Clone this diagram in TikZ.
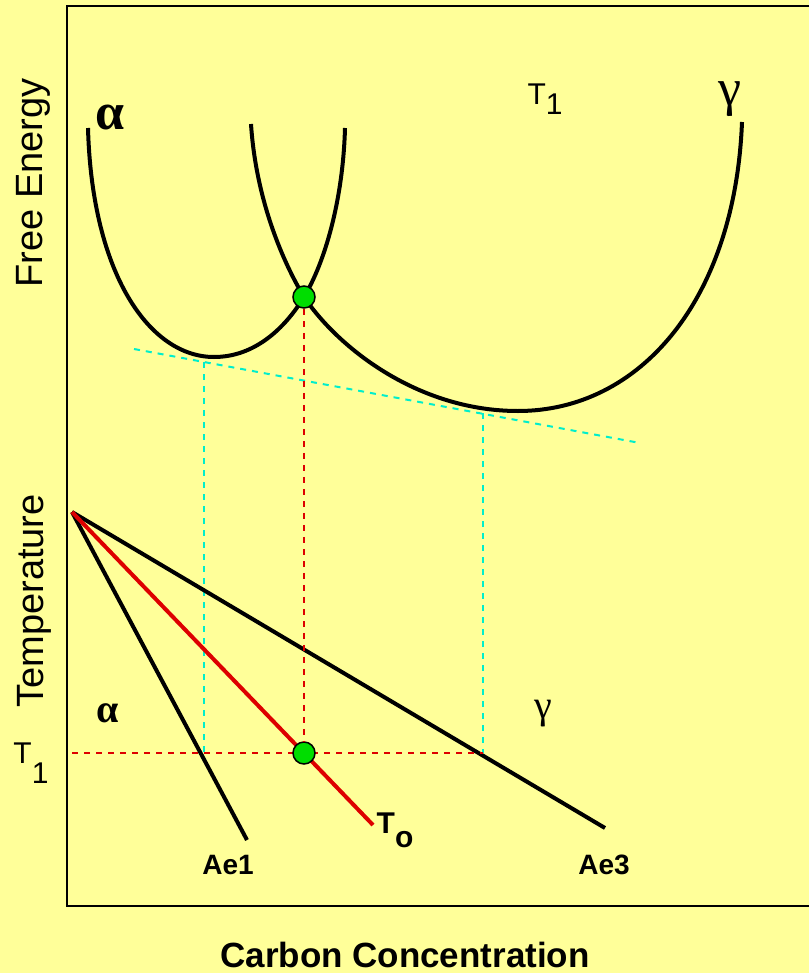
\documentclass[tikz,border=0pt]{standalone}
\usepackage{fontspec}
\setmainfont{Liberation Sans}
\newfontfamily\greekfont{Liberation Serif}
\usetikzlibrary{positioning}
\definecolor{slideYellow}{RGB}{255,255,153}
\definecolor{slideGreen}{RGB}{0,221,0}
\definecolor{slideRed}{RGB}{221,0,0}
\definecolor{slideCyan}{RGB}{0,238,204}

\begin{document}
\begin{tikzpicture}[
  x=0.5pt,y=-0.5pt,
  curve/.style={line width=2pt,line join=round},
  phaseline/.style={line width=2pt},
  tieline/.style={slideCyan,line width=1pt,dash pattern=on 3pt off 3pt},
  guide/.style={slideRed,line width=1pt,dash pattern=on 3pt off 3pt},
  dot/.style={
    circle,
    draw,
    line width=0.75pt,
    fill=slideGreen,
    inner sep=0pt,
    minimum size=11pt
  },
  axis/.style={font=\fontsize{19}{21}\selectfont},
  greek/.style={anchor=base,font=\greekfont\fontsize{26}{28}\selectfont},
  smallgreek/.style={anchor=base,font=\greekfont\fontsize{20}{22}\selectfont},
  linelabel/.style={anchor=base,font=\bfseries\fontsize{14}{16}\selectfont},
  templabel/.style={anchor=base,font=\fontsize{15}{17}\selectfont}
]
  \fill[slideYellow] (0,0) rectangle (809,973);
  \useasboundingbox (0,0) rectangle (809,973);
  \draw[line width=1pt] (809,6) -- (67,6) -- (67,906) -- (809,906);

  \coordinate (tanstart) at (134,349);
  \coordinate (tanend) at (640,443);
  \coordinate (tanalpha) at (204,362);
  \coordinate (tangamma) at (483,413);
  \coordinate (apex) at (72,512);
  \coordinate (ae1end) at (247,840);
  \coordinate (toend) at (373,825);
  \coordinate (ae3end) at (605,828);
  \coordinate (t1left) at (72,753);
  \coordinate (t1alpha) at (204,753);
  \coordinate (t1gamma) at (483,753);

  \draw[tieline] (tanstart) -- (tanend);
  \draw[tieline] (tanalpha) -- (t1alpha);
  \draw[tieline] (tangamma) -- (t1gamma);

  \draw[curve] (88,128) .. controls (92,275) and (150,357) .. (214,357)
    .. controls (255,357) and (285,328) .. (304,297)
    .. controls (325,262) and (343,200) .. (345,128);
  \draw[curve] (251,124) .. controls (256,200) and (283,262) .. (304,297)
    .. controls (340,350) and (420,411) .. (518,411)
    .. controls (640,411) and (735,300) .. (742,122);

  \draw[phaseline] (apex) -- (ae1end);
  \draw[phaseline] (apex) -- (ae3end);
  \draw[phaseline,slideRed] (apex) -- (toend);

  \draw[guide] (t1left) -- (t1gamma);
  \node[dot] (cross) at (304,297) {};
  \node[dot] (tzero) at (304,753) {};
  \draw[guide] (cross) -- (tzero);

  \node[axis,rotate=90,anchor=base] (energy) at (42,183) {Free Energy};
  \node[axis,rotate=90,anchor=base] (temp) at (43,601) {Temperature};
  \node[axis,anchor=base,font=\bfseries\fontsize{17.5}{20}\selectfont]
    (carbon) at (405,967) {Carbon Concentration};

  \node[templabel] (ttop) at (545,105) {T\raisebox{-5pt}{1}};
  \node[templabel] (tside) at (31,763) {T\raisebox{-10pt}{1}};

  \node[greek,font=\greekfont\bfseries\fontsize{26}{28}\selectfont]
    (alphatop) at (110,130) {α};
  \node[greek] (gammatop) at (730,106) {γ};
  \node[smallgreek,font=\greekfont\bfseries\fontsize{20}{22}\selectfont]
    (alphalow) at (108,722) {α};
  \node[smallgreek] (gammalow) at (543,718) {γ};

  \node[linelabel] (ae1) at (228,874) {Ae1};
  \node[linelabel] (ae3) at (604,874) {Ae3};
  \node[linelabel,font=\bfseries\fontsize{15}{17}\selectfont] (tolabel) at (395,833)
    {T\raisebox{-7pt}{o}};
\end{tikzpicture}
\end{document}
